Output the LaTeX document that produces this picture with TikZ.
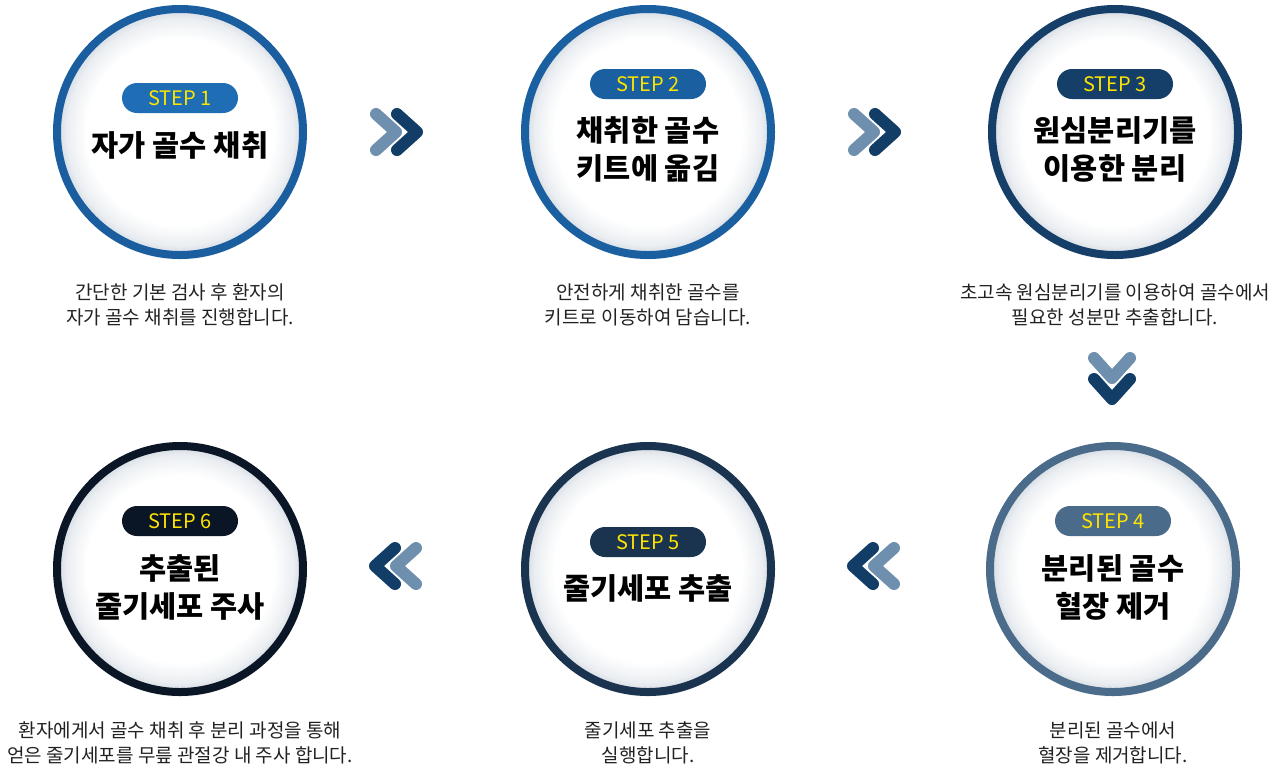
\documentclass[tikz,border=0pt]{standalone}
\usepackage{fontspec}
\setmainfont{Noto Sans CJK KR}
\usetikzlibrary{positioning,shadows.blur}

\definecolor{ringA}{HTML}{1B5E9F}
\definecolor{badgeA}{HTML}{1F6DB5}
\definecolor{ringB}{HTML}{1A5F9F}
\definecolor{ringC}{HTML}{153F69}
\definecolor{ringD}{HTML}{4B6B8B}
\definecolor{ringE}{HTML}{1A334F}
\definecolor{ringF}{HTML}{0A1626}
\definecolor{stepyellow}{HTML}{FFE400}
\definecolor{chevlightc}{HTML}{6F8FAE}
\definecolor{chevdarkc}{HTML}{123D66}
\definecolor{desccol}{HTML}{222222}
\definecolor{glowedge}{HTML}{D3DAE2}

\pgfdeclareradialshading{glow}{\pgfpoint{0bp}{0bp}}{%
  color(0bp)=(white); color(19bp)=(white); color(23bp)=(glowedge!45);
  color(25bp)=(glowedge); color(50bp)=(glowedge)}

\tikzset{
  stepcircle/.style={circle, minimum size=246pt, inner sep=0pt, line width=8pt,
                     draw=#1, shade, shading=glow,
                     blur shadow={shadow xshift=0pt, shadow yshift=-3pt,
                                  shadow opacity=22, shadow blur steps=8}},
  badge/.style={fill=#1, rounded corners=15pt, minimum width=116pt, minimum height=30pt,
                inner sep=0pt, text=stepyellow, font=\fontsize{20}{22}\selectfont},
  title/.style={align=center, text=black, font=\fontsize{29.5}{38}\selectfont\bfseries},
  desc/.style={align=center, text=desccol, font=\fontsize{19}{25}\selectfont},
  chevlight/.style={draw=chevlightc, line width=12pt, line cap=round, line join=round},
  chevdark/.style={draw=chevdarkc, line width=12pt, line cap=round, line join=round},
  halo/.style={preaction={draw, white, line width=15pt, line cap=round, line join=round}}, % white edge between the two
  nextpair/.pic={
    \draw[chevlight] (-20,-18) -- (0,0) -- (-20,18);
    \draw[chevdark, halo] (1,-18) -- (21,0) -- (1,18);
  },
  backpair/.pic={
    \draw[chevdark] (-1,-18) -- (-21,0) -- (-1,18);
    \draw[chevlight, halo] (20,-18) -- (0,0) -- (20,18);
  },
}

\begin{document}
\begin{tikzpicture}[x=1pt, y=-1pt]
  \useasboundingbox (0,0) rectangle (1276,764);

  % top row
  \node[stepcircle=ringA] (step1) at (180,132) {};
  \node[stepcircle=ringB] (step2) at (648,132) {};
  \node[stepcircle=ringC] (step3) at (1115,132) {};
  % bottom row
  \node[stepcircle=ringD] (step4) at (1113,569) {};
  \node[stepcircle=ringE] (step5) at (648,569) {};
  \node[stepcircle=ringF] (step6) at (180,569) {};

  \node[badge=badgeA] (badge1) at ([yshift=34pt]step1.center) {STEP 1};
  \node[badge=ringB] (badge2) at ([yshift=48pt]step2.center) {STEP 2};
  \node[badge=ringC] (badge3) at ([yshift=48pt]step3.center) {STEP 3};
  \node[badge=ringD] (badge4) at ([yshift=48pt]step4.center) {STEP 4};
  \node[badge=ringE] (badge5) at ([yshift=27pt]step5.center) {STEP 5};
  \node[badge=ringF] (badge6) at ([yshift=48pt]step6.center) {STEP 6};

  \node[title] (title1) at ([yshift=-13pt]step1.center) {자가 골수 채취};
  \node[title] (title2) at ([yshift=-17pt]step2.center) {채취한 골수\\키트에 옮김};
  \node[title] (title3) at ([yshift=-17pt]step3.center) {원심분리기를\\이용한 분리};
  \node[title] (title4) at ([yshift=-18pt]step4.center) {분리된 골수\\혈장 제거};
  \node[title] (title5) at ([yshift=-19pt]step5.center) {줄기세포 추출};
  \node[title] (title6) at ([yshift=-18pt]step6.center) {추출된\\줄기세포 주사};

  \node[desc] (desc1) at ([yshift=-173pt]step1.center) {간단한 기본 검사 후 환자의\\자가 골수 채취를 진행합니다.};
  \node[desc] (desc2) at ([yshift=-173pt]step2.center) {안전하게 채취한 골수를\\키트로 이동하여 담습니다.};
  \node[desc] (desc3) at ([yshift=-173pt]step3.center) {초고속 원심분리기를 이용하여 골수에서\\필요한 성분만 추출합니다.};
  \node[desc] (desc4) at ([yshift=-174pt]step4.center) {분리된 골수에서\\혈장을 제거합니다.};
  \node[desc] (desc5) at ([yshift=-174pt]step5.center) {줄기세포 추출을\\실행합니다.};
  \node[desc] (desc6) at ([yshift=-174pt]step6.center) {환자에게서 골수 채취 후 분리 과정을 통해\\얻은 줄기세포를 무릎 관절강 내 주사 합니다.};

  % chevrons between the steps
  \pic at (396,132) {nextpair};
  \pic at (874,132) {nextpair};
  \pic[rotate=-90] at (1112,378) {nextpair};
  \pic at (874,566) {backpair};
  \pic at (396,566) {backpair};

\end{tikzpicture}
\end{document}
